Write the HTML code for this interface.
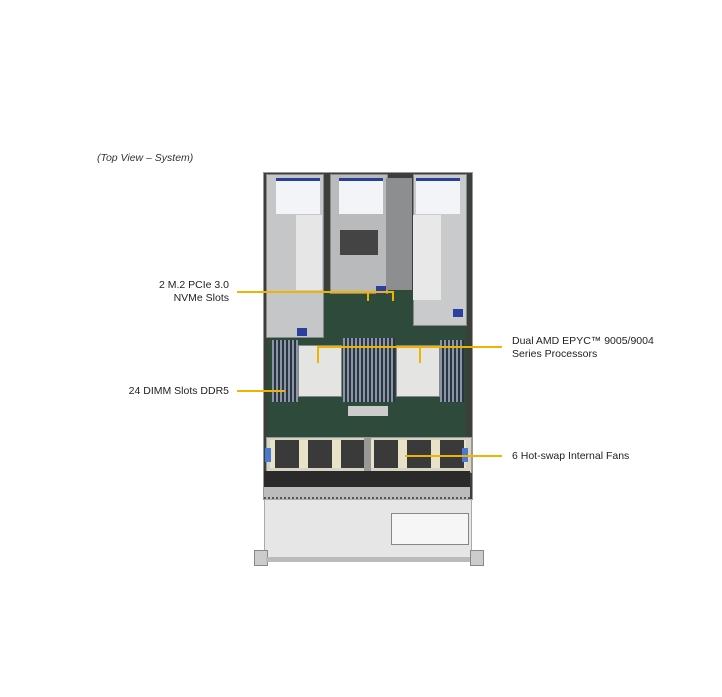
<!DOCTYPE html>
<html><head><meta charset="utf-8"><style>
body{margin:0;background:#fff;width:722px;height:697px;position:relative;overflow:hidden;font-family:"Liberation Sans",sans-serif;}
.a{position:absolute;}
.t{position:absolute;font-size:10.5px;color:#222;line-height:13px;white-space:nowrap;}
</style></head><body>
<div class="t" style="left:97px;top:152px;font-style:italic;color:#333">(Top View – System)</div>
<div class="t" style="right:493px;top:279px;text-align:right">2 M.2 PCIe 3.0<br>NVMe Slots</div>
<div class="t" style="right:493px;top:385px">24 DIMM Slots DDR5</div>
<div class="t" style="left:512px;top:335px">Dual AMD EPYC™ 9005/9004<br>Series Processors</div>
<div class="t" style="left:512px;top:450px">6 Hot-swap Internal Fans</div>

<!-- chassis -->
<div class="a" style="left:263px;top:172px;width:208px;height:326px;background:#3a3f3a;border:1px solid #999"></div>
<!-- motherboard -->
<div class="a" style="left:268px;top:290px;width:198px;height:150px;background:#2e4a3a"></div>
<!-- DIMMs -->
<div class="a" style="left:272px;top:340px;width:26px;height:62px;background:repeating-linear-gradient(90deg,#8a96a8 0 2px,#2b3540 2px 4px)"></div>
<div class="a" style="left:343px;top:338px;width:52px;height:64px;background:repeating-linear-gradient(90deg,#8a96a8 0 2px,#2b3540 2px 4px)"></div>
<div class="a" style="left:440px;top:340px;width:24px;height:62px;background:repeating-linear-gradient(90deg,#8a96a8 0 2px,#2b3540 2px 4px)"></div>
<!-- CPUs -->
<div class="a" style="left:298px;top:345px;width:42px;height:50px;background:#e4e4e2;border:1px solid #888"></div>
<div class="a" style="left:396px;top:345px;width:42px;height:50px;background:#e4e4e2;border:1px solid #888"></div>
<div class="a" style="left:348px;top:406px;width:40px;height:10px;background:#ccc"></div>
<!-- risers -->
<div class="a" style="left:266px;top:174px;width:56px;height:162px;background:#c4c6c8;border:1px solid #888"></div>
<div class="a" style="left:296px;top:215px;width:26px;height:75px;background:#e6e6e6"></div>
<div class="a" style="left:330px;top:174px;width:56px;height:118px;background:#b8babc;border:1px solid #888"></div>
<div class="a" style="left:340px;top:230px;width:38px;height:25px;background:#444"></div>
<div class="a" style="left:386px;top:178px;width:26px;height:112px;background:#8c8e90"></div>
<div class="a" style="left:413px;top:174px;width:52px;height:150px;background:#c8cacc;border:1px solid #888"></div>
<div class="a" style="left:413px;top:215px;width:28px;height:85px;background:#e8e8e8"></div>
<!-- riser labels -->
<div class="a" style="left:276px;top:178px;width:44px;height:33px;background:#f2f4f8;border-top:3px solid #2a3f9a"></div>
<div class="a" style="left:339px;top:178px;width:44px;height:33px;background:#f2f4f8;border-top:3px solid #2a3f9a"></div>
<div class="a" style="left:416px;top:178px;width:44px;height:33px;background:#f2f4f8;border-top:3px solid #2a3f9a"></div>
<div class="a" style="left:297px;top:328px;width:10px;height:8px;background:#2a3fa0"></div>
<div class="a" style="left:453px;top:309px;width:10px;height:8px;background:#2a3fa0"></div>
<div class="a" style="left:376px;top:286px;width:10px;height:8px;background:#2a3fa0"></div>
<!-- fans -->
<div class="a" style="left:266px;top:437px;width:204px;height:34px;background:#d8d4c4;border:1px solid #999"></div>
<div class="a" style="left:270px;top:440px;width:196px;height:28px;background:repeating-linear-gradient(90deg,#e8e2c8 0 5px,#3a3a3a 5px 29px,#e8e2c8 29px 33px)"></div>
<div class="a" style="left:364px;top:437px;width:7px;height:34px;background:#999"></div>
<div class="a" style="left:265px;top:448px;width:6px;height:14px;background:#4a7ad0"></div>
<div class="a" style="left:462px;top:448px;width:6px;height:14px;background:#4a7ad0"></div>
<!-- front -->
<div class="a" style="left:264px;top:471px;width:206px;height:16px;background:#2a2a2a"></div>
<div class="a" style="left:264px;top:487px;width:206px;height:10px;background:#bcbcbc;border-bottom:2px dotted #555"></div>
<div class="a" style="left:264px;top:499px;width:206px;height:58px;background:#e6e6e6;border:1px solid #aaa"></div>
<div class="a" style="left:391px;top:513px;width:76px;height:30px;background:#f6f6f6;border:1px solid #888"></div>
<div class="a" style="left:254px;top:550px;width:12px;height:14px;background:#ccc;border:1px solid #888"></div>
<div class="a" style="left:470px;top:550px;width:12px;height:14px;background:#ccc;border:1px solid #888"></div>
<div class="a" style="left:266px;top:557px;width:204px;height:5px;background:#bbb"></div>
<!-- leader lines -->
<svg class="a" style="left:0;top:0" width="722" height="697">
<g stroke="#f0b400" stroke-width="2" fill="none">
<polyline points="237,292 393,292 393,301"/>
<line x1="368" y1="292" x2="368" y2="301"/>
<polyline points="318,363 318,347 502,347"/>
<line x1="420" y1="347" x2="420" y2="363"/>
<line x1="237" y1="391" x2="285" y2="391"/>
<line x1="405" y1="456" x2="502" y2="456"/>
</g></svg>
</body></html>
